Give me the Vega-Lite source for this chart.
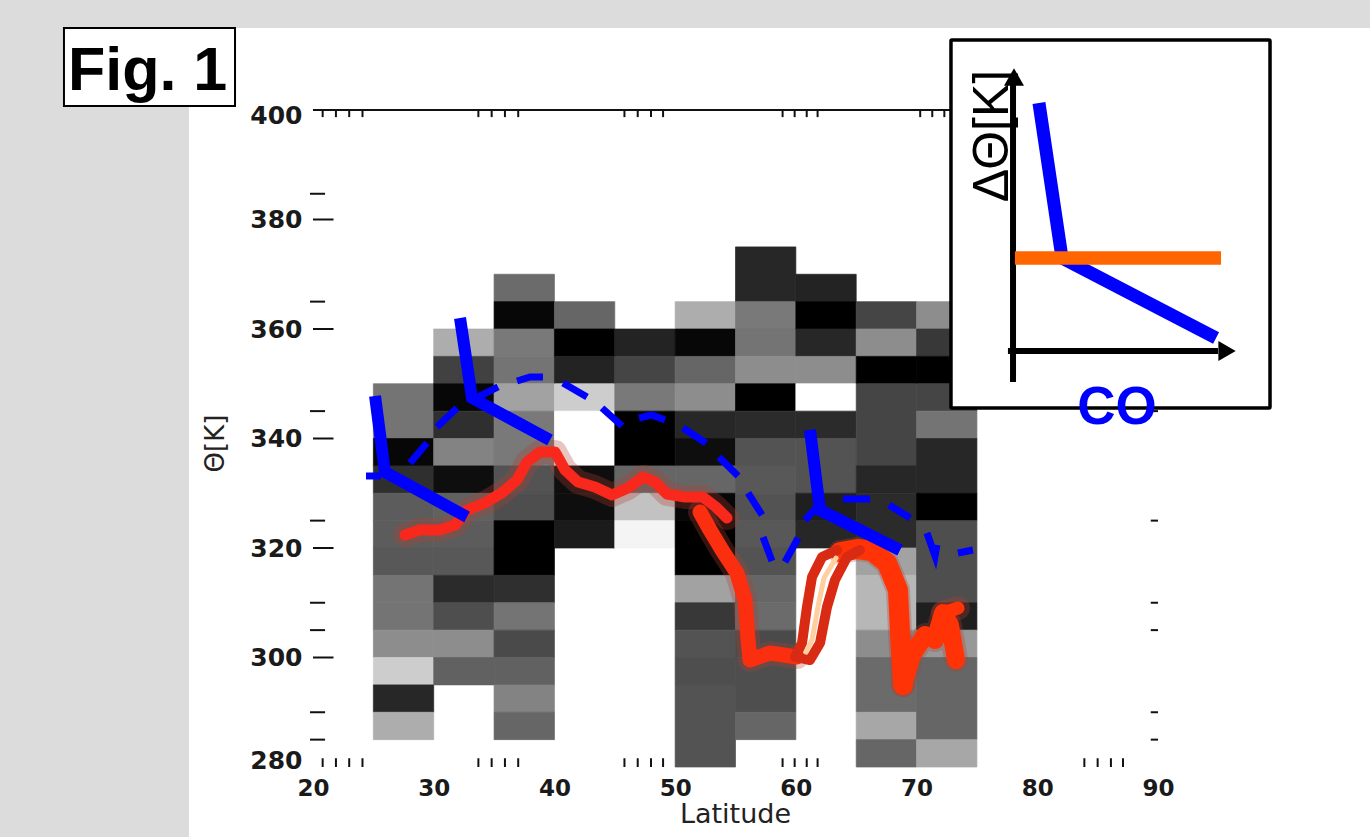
{"$schema":"https://vega.github.io/schema/vega-lite/v6.json","width":845,"height":657,"autosize":"none","padding":{"left":313,"top":110,"right":212,"bottom":70},"background":"#dcdcdc","config":{"view":{"stroke":null}},
"encoding":{"x":{"field":"lat","type":"quantitative","scale":{"domain":[20,90],"nice":false,"zero":false},"axis":{"zindex":1,"title":"Latitude","values":[20,30,40,50,60,70,80,90],"ticks":false,"domain":false,"grid":false,"labelFont":"DejaVu Sans","labelFontSize":23,"labelFontWeight":"bold","labelColor":"#1a1a1a","labelPadding":10,"labelFlush":false,"labelOverlap":false,"titleFont":"DejaVu Sans","titleFontSize":27,"titleFontWeight":"normal","titleColor":"#222222","titleX":422,"titleY":55,"titleBaseline":"alphabetic"}},"y":{"field":"t","type":"quantitative","scale":{"domain":[280,400],"nice":false,"zero":false},"axis":{"zindex":1,"title":"Θ[K]","values":[280,300,320,340,360,380,400],"ticks":false,"domain":false,"grid":false,"labelFont":"DejaVu Sans","labelFontSize":25,"labelFontWeight":"bold","labelColor":"#1a1a1a","labelPadding":11,"labelOverlap":false,"labelFlush":false,"labelOffset":{"expr":"datum.value==400?5:datum.value==280?-7:0"},"titleFont":"DejaVu Sans","titleFontSize":26,"titleFontWeight":"normal","titleColor":"#222222","titleX":-90,"titleY":333,"titleBaseline":"alphabetic"}}},
"layer":[
{"data":{"values":[{"lat":9.73,"lat2":107.56,"t":414.98,"t2":267.21}]},"mark":{"type":"rect","fill":"#ffffff"},"encoding":{"x2":{"field":"lat2"},"y2":{"field":"t2"}}},
{"data":{"values":[
{"lat":25,"lat2":30,"t":340,"t2":350,"v":125},{"lat":25,"lat2":30,"t":335,"t2":340,"v":5},{"lat":25,"lat2":30,"t":330,"t2":335,"v":50},{"lat":25,"lat2":30,"t":325,"t2":330,"v":100},{"lat":25,"lat2":30,"t":320,"t2":325,"v":100},{"lat":25,"lat2":30,"t":315,"t2":320,"v":95},{"lat":25,"lat2":30,"t":310,"t2":315,"v":125},{"lat":25,"lat2":30,"t":305,"t2":310,"v":125},{"lat":25,"lat2":30,"t":300,"t2":305,"v":150},{"lat":25,"lat2":30,"t":295,"t2":300,"v":210},{"lat":25,"lat2":30,"t":290,"t2":295,"v":40},{"lat":25,"lat2":30,"t":285,"t2":290,"v":180},
{"lat":30,"lat2":35,"t":355,"t2":360,"v":180},{"lat":30,"lat2":35,"t":350,"t2":355,"v":70},{"lat":30,"lat2":35,"t":345,"t2":350,"v":5},{"lat":30,"lat2":35,"t":340,"t2":345,"v":50},{"lat":30,"lat2":35,"t":335,"t2":340,"v":140},{"lat":30,"lat2":35,"t":330,"t2":335,"v":10},{"lat":30,"lat2":35,"t":325,"t2":330,"v":105},{"lat":30,"lat2":35,"t":320,"t2":325,"v":100},{"lat":30,"lat2":35,"t":315,"t2":320,"v":95},{"lat":30,"lat2":35,"t":310,"t2":315,"v":45},{"lat":30,"lat2":35,"t":305,"t2":310,"v":85},{"lat":30,"lat2":35,"t":300,"t2":305,"v":150},{"lat":30,"lat2":35,"t":295,"t2":300,"v":105},
{"lat":35,"lat2":40,"t":365,"t2":370,"v":115},{"lat":35,"lat2":40,"t":360,"t2":365,"v":5},{"lat":35,"lat2":40,"t":355,"t2":360,"v":130},{"lat":35,"lat2":40,"t":350,"t2":355,"v":125},{"lat":35,"lat2":40,"t":345,"t2":350,"v":170},{"lat":35,"lat2":40,"t":340,"t2":345,"v":130},{"lat":35,"lat2":40,"t":335,"t2":340,"v":130},{"lat":35,"lat2":40,"t":330,"t2":335,"v":90},{"lat":35,"lat2":40,"t":325,"t2":330,"v":85},{"lat":35,"lat2":40,"t":320,"t2":325,"v":0},{"lat":35,"lat2":40,"t":315,"t2":320,"v":0},{"lat":35,"lat2":40,"t":310,"t2":315,"v":50},{"lat":35,"lat2":40,"t":305,"t2":310,"v":125},{"lat":35,"lat2":40,"t":300,"t2":305,"v":80},{"lat":35,"lat2":40,"t":295,"t2":300,"v":105},{"lat":35,"lat2":40,"t":290,"t2":295,"v":140},{"lat":35,"lat2":40,"t":285,"t2":290,"v":110},
{"lat":40,"lat2":45,"t":360,"t2":365,"v":110},{"lat":40,"lat2":45,"t":355,"t2":360,"v":0},{"lat":40,"lat2":45,"t":350,"t2":355,"v":35},{"lat":40,"lat2":45,"t":345,"t2":350,"v":210},{"lat":40,"lat2":45,"t":335,"t2":345,"v":255},{"lat":40,"lat2":45,"t":330,"t2":335,"v":10},{"lat":40,"lat2":45,"t":325,"t2":330,"v":10},{"lat":40,"lat2":45,"t":320,"t2":325,"v":25},
{"lat":45,"lat2":50,"t":355,"t2":360,"v":35},{"lat":45,"lat2":50,"t":350,"t2":355,"v":75},{"lat":45,"lat2":50,"t":345,"t2":350,"v":130},{"lat":45,"lat2":50,"t":335,"t2":345,"v":0},{"lat":45,"lat2":50,"t":330,"t2":335,"v":110},{"lat":45,"lat2":50,"t":325,"t2":330,"v":200},{"lat":45,"lat2":50,"t":320,"t2":325,"v":245},
{"lat":50,"lat2":55,"t":360,"t2":365,"v":180},{"lat":50,"lat2":55,"t":355,"t2":360,"v":5},{"lat":50,"lat2":55,"t":350,"t2":355,"v":110},{"lat":50,"lat2":55,"t":345,"t2":350,"v":150},{"lat":50,"lat2":55,"t":340,"t2":345,"v":40},{"lat":50,"lat2":55,"t":335,"t2":340,"v":10},{"lat":50,"lat2":55,"t":330,"t2":335,"v":110},{"lat":50,"lat2":55,"t":325,"t2":330,"v":5},{"lat":50,"lat2":55,"t":315,"t2":325,"v":0},{"lat":50,"lat2":55,"t":310,"t2":315,"v":170},{"lat":50,"lat2":55,"t":305,"t2":310,"v":60},{"lat":50,"lat2":55,"t":300,"t2":305,"v":90},{"lat":50,"lat2":55,"t":295,"t2":300,"v":85},{"lat":50,"lat2":55,"t":280,"t2":295,"v":90},
{"lat":55,"lat2":60,"t":365,"t2":375,"v":40},{"lat":55,"lat2":60,"t":360,"t2":365,"v":130},{"lat":55,"lat2":60,"t":355,"t2":360,"v":125},{"lat":55,"lat2":60,"t":350,"t2":355,"v":150},{"lat":55,"lat2":60,"t":345,"t2":350,"v":0},{"lat":55,"lat2":60,"t":340,"t2":345,"v":45},{"lat":55,"lat2":60,"t":335,"t2":340,"v":90},{"lat":55,"lat2":60,"t":330,"t2":335,"v":95},{"lat":55,"lat2":60,"t":325,"t2":330,"v":90},{"lat":55,"lat2":60,"t":320,"t2":325,"v":95},{"lat":55,"lat2":60,"t":315,"t2":320,"v":90},{"lat":55,"lat2":60,"t":310,"t2":315,"v":110},{"lat":55,"lat2":60,"t":305,"t2":310,"v":115},{"lat":55,"lat2":60,"t":300,"t2":305,"v":80},{"lat":55,"lat2":60,"t":290,"t2":300,"v":85},{"lat":55,"lat2":60,"t":285,"t2":290,"v":110},
{"lat":60,"lat2":65,"t":365,"t2":370,"v":35},{"lat":60,"lat2":65,"t":360,"t2":365,"v":0},{"lat":60,"lat2":65,"t":355,"t2":360,"v":40},{"lat":60,"lat2":65,"t":350,"t2":355,"v":150},{"lat":60,"lat2":65,"t":345,"t2":350,"v":255},{"lat":60,"lat2":65,"t":340,"t2":345,"v":45},{"lat":60,"lat2":65,"t":330,"t2":340,"v":90},{"lat":60,"lat2":65,"t":325,"t2":330,"v":30},{"lat":60,"lat2":65,"t":320,"t2":325,"v":40},
{"lat":65,"lat2":70,"t":360,"t2":365,"v":75},{"lat":65,"lat2":70,"t":355,"t2":360,"v":150},{"lat":65,"lat2":70,"t":350,"t2":355,"v":0},{"lat":65,"lat2":70,"t":335,"t2":350,"v":75},{"lat":65,"lat2":70,"t":330,"t2":335,"v":40},{"lat":65,"lat2":70,"t":320,"t2":330,"v":45},{"lat":65,"lat2":70,"t":315,"t2":320,"v":170},{"lat":65,"lat2":70,"t":305,"t2":315,"v":190},{"lat":65,"lat2":70,"t":300,"t2":305,"v":150},{"lat":65,"lat2":70,"t":290,"t2":300,"v":115},{"lat":65,"lat2":70,"t":285,"t2":290,"v":175},{"lat":65,"lat2":70,"t":280,"t2":285,"v":110},
{"lat":70,"lat2":75,"t":360,"t2":365,"v":150},{"lat":70,"lat2":75,"t":355,"t2":360,"v":60},{"lat":70,"lat2":75,"t":350,"t2":355,"v":0},{"lat":70,"lat2":75,"t":345,"t2":350,"v":75},{"lat":70,"lat2":75,"t":340,"t2":345,"v":125},{"lat":70,"lat2":75,"t":330,"t2":340,"v":40},{"lat":70,"lat2":75,"t":325,"t2":330,"v":0},{"lat":70,"lat2":75,"t":310,"t2":325,"v":85},{"lat":70,"lat2":75,"t":305,"t2":310,"v":30},{"lat":70,"lat2":75,"t":300,"t2":305,"v":160},{"lat":70,"lat2":75,"t":285,"t2":300,"v":110},{"lat":70,"lat2":75,"t":280,"t2":285,"v":175}
]},"mark":{"type":"rect","strokeWidth":0.7},"encoding":{"x2":{"field":"lat2"},"y2":{"field":"t2"},"fill":{"field":"v","type":"quantitative","scale":{"domain":[0,255],"range":["#000000","#ffffff"]},"legend":null},"stroke":{"field":"v","type":"quantitative","scale":{"domain":[0,255],"range":["#000000","#ffffff"]},"legend":null}}},
{"data":{"name":"ticks","values":[
{"lat":20,"lat2":90,"t":400,"t2":400},
{"lat":20,"lat2":21.7,"t":380,"t2":380},{"lat":20,"lat2":21.7,"t":360,"t2":360},{"lat":20,"lat2":21.7,"t":340,"t2":340},{"lat":20,"lat2":21.7,"t":320,"t2":320},{"lat":20,"lat2":21.7,"t":300,"t2":300},
{"lat":19.75,"lat2":21,"t":384.7,"t2":384.7},{"lat":19.75,"lat2":21,"t":365,"t2":365},{"lat":19.75,"lat2":21,"t":345,"t2":345},{"lat":19.75,"lat2":21,"t":325,"t2":325},{"lat":19.75,"lat2":21,"t":310,"t2":310},{"lat":19.75,"lat2":21,"t":305,"t2":305},{"lat":19.75,"lat2":21,"t":290,"t2":290},{"lat":19.75,"lat2":21,"t":285,"t2":285},
{"lat":89.4,"lat2":90,"t":345,"t2":345},{"lat":89.4,"lat2":90,"t":325,"t2":325},{"lat":89.4,"lat2":90,"t":310,"t2":310},{"lat":89.4,"lat2":90,"t":305,"t2":305},{"lat":89.4,"lat2":90,"t":290,"t2":290},{"lat":89.4,"lat2":90,"t":285,"t2":285},
{"lat":20.8,"lat2":20.8,"t":280,"t2":281.6},{"lat":21.9,"lat2":21.9,"t":280,"t2":281.6},{"lat":23,"lat2":23,"t":280,"t2":281.6},{"lat":24.1,"lat2":24.1,"t":280,"t2":281.6},
{"lat":33.7,"lat2":33.7,"t":280,"t2":281.6},{"lat":34.8,"lat2":34.8,"t":280,"t2":281.6},{"lat":35.9,"lat2":35.9,"t":280,"t2":281.6},{"lat":37,"lat2":37,"t":280,"t2":281.6},
{"lat":45.8,"lat2":45.8,"t":280,"t2":281.6},{"lat":46.9,"lat2":46.9,"t":280,"t2":281.6},{"lat":48,"lat2":48,"t":280,"t2":281.6},{"lat":49,"lat2":49,"t":280,"t2":281.6},
{"lat":58.9,"lat2":58.9,"t":280,"t2":281.6},{"lat":59.9,"lat2":59.9,"t":280,"t2":281.6},{"lat":60.9,"lat2":60.9,"t":280,"t2":281.6},{"lat":61.8,"lat2":61.8,"t":280,"t2":281.6},
{"lat":83.9,"lat2":83.9,"t":280,"t2":281.6},{"lat":85,"lat2":85,"t":280,"t2":281.6},{"lat":86.1,"lat2":86.1,"t":280,"t2":281.6},{"lat":87.1,"lat2":87.1,"t":280,"t2":281.6},
{"lat":20.8,"lat2":20.8,"t":398.7,"t2":400},{"lat":21.9,"lat2":21.9,"t":398.7,"t2":400},{"lat":23,"lat2":23,"t":398.7,"t2":400},{"lat":24.1,"lat2":24.1,"t":398.7,"t2":400},
{"lat":33.7,"lat2":33.7,"t":398.7,"t2":400},{"lat":34.8,"lat2":34.8,"t":398.7,"t2":400},{"lat":35.9,"lat2":35.9,"t":398.7,"t2":400},{"lat":37,"lat2":37,"t":398.7,"t2":400},
{"lat":45.8,"lat2":45.8,"t":398.7,"t2":400},{"lat":46.9,"lat2":46.9,"t":398.7,"t2":400},{"lat":48,"lat2":48,"t":398.7,"t2":400},{"lat":49,"lat2":49,"t":398.7,"t2":400},
{"lat":58.9,"lat2":58.9,"t":398.7,"t2":400},{"lat":59.9,"lat2":59.9,"t":398.7,"t2":400},{"lat":60.9,"lat2":60.9,"t":398.7,"t2":400},{"lat":61.8,"lat2":61.8,"t":398.7,"t2":400},
{"lat":70.3,"lat2":70.3,"t":398.7,"t2":400},{"lat":71.3,"lat2":71.3,"t":398.7,"t2":400},{"lat":72.3,"lat2":72.3,"t":398.7,"t2":400}
]},"mark":{"type":"rule","color":"#111111","strokeWidth":2},"encoding":{"x2":{"field":"lat2"},"y2":{"field":"t2"}}},
{"data":{"name":"red","values":[
{"part":"L","lat":27.62,"t":322.37},{"part":"L","lat":28.86,"t":323.29},{"part":"L","lat":30.52,"t":323.29},{"part":"L","lat":31.76,"t":324.2},{"part":"L","lat":32.76,"t":326.94},{"part":"L","lat":34.25,"t":328.22},{"part":"L","lat":35.74,"t":330.23},{"part":"L","lat":36.9,"t":332.42},{"part":"L","lat":37.73,"t":335.71},{"part":"L","lat":38.8,"t":337.53},{"part":"L","lat":40.05,"t":337.53},{"part":"L","lat":40.88,"t":334.25},{"part":"L","lat":41.95,"t":332.05},{"part":"L","lat":43.36,"t":331.14},{"part":"L","lat":44.77,"t":329.68},{"part":"L","lat":46.09,"t":330.96},{"part":"L","lat":47.34,"t":332.97},{"part":"L","lat":48.33,"t":332.05},{"part":"L","lat":49.33,"t":329.86},{"part":"L","lat":50.82,"t":329.31},{"part":"L","lat":52.31,"t":329.31},{"part":"L","lat":53.38,"t":327.49},{"part":"L","lat":54.3,"t":325.48},
{"part":"D","lat":52.06,"t":326.57},{"part":"D","lat":52.89,"t":323.29},{"part":"D","lat":53.88,"t":319.63},{"part":"D","lat":55.12,"t":315.43},{"part":"D","lat":55.79,"t":310.5},{"part":"D","lat":56.04,"t":303.2},{"part":"D","lat":56.2,"t":299.54},{"part":"D","lat":57.86,"t":300.82},{"part":"D","lat":60.1,"t":300.09},
{"part":"R","lat":63.66,"t":319.27},{"part":"R","lat":65.15,"t":319.82},{"part":"R","lat":66.31,"t":319.45},{"part":"R","lat":67.55,"t":317.26},{"part":"R","lat":68.46,"t":312.33},{"part":"R","lat":68.63,"t":304.47},{"part":"R","lat":68.88,"t":294.98},
{"part":"E","lat":68.88,"t":294.98},{"part":"E","lat":69.62,"t":300.46},{"part":"E","lat":70.7,"t":304.11},{"part":"E","lat":71.53,"t":303.2},{"part":"E","lat":72.19,"t":308.13},{"part":"E","lat":72.77,"t":305.94},{"part":"E","lat":73.27,"t":299.54},
{"part":"F","lat":72.19,"t":308.13},{"part":"F","lat":73.43,"t":309.04},
{"part":"A","lat":59.93,"t":300.09},{"part":"A","lat":60.51,"t":302.65},{"part":"A","lat":60.92,"t":309.22},{"part":"A","lat":61.34,"t":314.7},{"part":"A","lat":62.17,"t":318.36},{"part":"A","lat":63.41,"t":319.63},
{"part":"B","lat":60.1,"t":300.09},{"part":"B","lat":61.17,"t":299.54},{"part":"B","lat":62,"t":302.65},{"part":"B","lat":62.58,"t":309.22},{"part":"B","lat":63.24,"t":314.15},{"part":"B","lat":64.24,"t":318.36},{"part":"B","lat":65.31,"t":319.63},
{"part":"M","lat":60.84,"t":301},{"part":"M","lat":61.34,"t":303.2},{"part":"M","lat":61.83,"t":309.22},{"part":"M","lat":62.33,"t":314.52},{"part":"M","lat":63.33,"t":318.17}
]},"transform":[{"filter":"indexof(['L','D','R','E','F'],datum.part)>=0"}],"mark":{"type":"line","color":"#b04030","opacity":0.3,"strokeCap":"round","strokeJoin":"round","strokeWidth":24},"encoding":{"detail":{"field":"part"},"order":null}},
{"data":{"name":"red"},"mark":{"type":"line","strokeCap":"round","strokeJoin":"round"},"encoding":{"order":null,"color":{"field":"part","type":"nominal","legend":null,"scale":{"type":"ordinal","domain":["L","D","R","E","F","A","B","M"],"range":["#f8281c","#fb2f0f","#ff3306","#ff3306","#ff3306","#d92a14","#d92a14","#ffcfa0"]}},"strokeWidth":{"field":"part","type":"nominal","legend":null,"scale":{"type":"ordinal","domain":["L","D","R","E","F","A","B","M"],"range":[11,15,20,18,13,10,10,5]}}}},
{"data":{"values":[
{"id":0,"lat":24.39,"t":333.15},{"id":0,"lat":25.63,"t":333.15},
{"id":1,"lat":28.04,"t":335.52},{"id":1,"lat":29.44,"t":339.18},
{"id":2,"lat":30.27,"t":342.1},{"id":2,"lat":31.93,"t":345.57},
{"id":3,"lat":33.67,"t":347.58},{"id":3,"lat":35.33,"t":349.41},
{"id":4,"lat":36.9,"t":350.5},{"id":4,"lat":37.98,"t":351.23},{"id":4,"lat":39.05,"t":351.23},
{"id":5,"lat":40.71,"t":350.14},{"id":5,"lat":42.7,"t":347.58},
{"id":6,"lat":43.94,"t":345.57},{"id":6,"lat":45.6,"t":342.28},
{"id":7,"lat":47.01,"t":343.74},{"id":7,"lat":48.08,"t":344.29},{"id":7,"lat":49.16,"t":343.38},
{"id":8,"lat":50.65,"t":341.92},{"id":8,"lat":52.56,"t":339.18},
{"id":9,"lat":53.63,"t":336.62},{"id":9,"lat":55.21,"t":333.15},
{"id":10,"lat":56.04,"t":330.05},{"id":10,"lat":57.2,"t":326.03},
{"id":11,"lat":57.28,"t":322.01},{"id":11,"lat":58.02,"t":317.62},
{"id":12,"lat":59.1,"t":317.44},{"id":12,"lat":60.18,"t":321.83},
{"id":13,"lat":60.76,"t":325.11},{"id":13,"lat":61.75,"t":327.49},
{"id":14,"lat":63.91,"t":328.95},{"id":14,"lat":66.14,"t":328.95},
{"id":15,"lat":67.72,"t":327.85},{"id":15,"lat":69.46,"t":325.48},
{"id":16,"lat":70.86,"t":322.74},{"id":16,"lat":71.69,"t":320.55},{"id":16,"lat":71.53,"t":318.54},
{"id":17,"lat":73.43,"t":319.09},{"id":17,"lat":74.67,"t":319.63}
]},"mark":{"type":"line","color":"#0000ff","strokeWidth":7},"encoding":{"detail":{"field":"id"},"order":null}},
{"data":{"values":[
{"id":1,"lat":25.14,"t":347.76},{"id":1,"lat":25.96,"t":333.88},{"id":1,"lat":32.76,"t":325.66},
{"id":2,"lat":32.18,"t":362.01},{"id":2,"lat":33.17,"t":347.4},{"id":2,"lat":39.63,"t":339.73},
{"id":3,"lat":61.17,"t":341.55},{"id":3,"lat":62,"t":326.94},{"id":3,"lat":68.63,"t":319.63}
]},"mark":{"type":"line","color":"#0000ff","strokeWidth":12},"encoding":{"detail":{"field":"id"},"order":null}},
{"data":{"values":[{"lat":-0.63,"lat2":13.54,"t":414.98,"t2":400.73}]},"mark":{"type":"rect","fill":"#ffffff","stroke":"#000000","strokeWidth":2},"encoding":{"x2":{"field":"lat2"},"y2":{"field":"t2"}}},
{"data":{"values":[{"lat":-0.3,"t":403.65,"label":"Fig. 1"}]},"mark":{"type":"text","font":"Liberation Sans","fontWeight":"bold","fontSize":61,"align":"left","baseline":"alphabetic","color":"#000000"},"encoding":{"text":{"field":"label"}}},
{"data":{"values":[{"lat":72.85,"lat2":99.28,"t":412.79,"t2":345.57}]},"mark":{"type":"rect","fill":"#ffffff","stroke":"#000000","strokeWidth":3.5,"cornerRadius":1},"encoding":{"x2":{"field":"lat2"},"y2":{"field":"t2"}}},
{"data":{"values":[{"id":"v","lat":77.99,"t":406.03},{"id":"v","lat":77.99,"t":350.32},{"id":"h","lat":77.57,"t":355.98},{"id":"h","lat":94.97,"t":355.98}]},"mark":{"type":"line","color":"#000000","strokeWidth":6},"encoding":{"detail":{"field":"id"},"order":null}},
{"data":{"values":[{"lat":78.07,"t":406.03}]},"mark":{"type":"point","shape":"triangle-up","size":400,"filled":true,"color":"#000000","opacity":1}},
{"data":{"values":[{"lat":95.72,"t":355.98}]},"mark":{"type":"point","shape":"triangle-right","size":400,"filled":true,"color":"#000000","opacity":1}},
{"data":{"values":[{"lat":80.14,"t":401.28},{"lat":82.05,"t":372.97},{"lat":94.81,"t":358.36}]},"mark":{"type":"line","color":"#0000ff","strokeWidth":13},"encoding":{"order":null}},
{"data":{"values":[{"lat":78.15,"t":372.97},{"lat":95.22,"t":372.97}]},"mark":{"type":"line","color":"#ff6600","strokeWidth":13.5},"encoding":{"order":null}},
{"data":{"values":[{"lat":77.57,"t":395.25,"label":"ΔΘ[K]"}]},"mark":{"type":"text","font":"Liberation Sans","fontSize":50,"angle":270,"align":"center","baseline":"alphabetic","color":"#000000"},"encoding":{"text":{"field":"label"}}},
{"data":{"values":[{"lat":86.6,"t":342.65,"label":"CO"}]},"mark":{"type":"text","font":"Liberation Sans","fontWeight":"bold","fontSize":53,"align":"center","baseline":"alphabetic","color":"#0000ff"},"encoding":{"text":{"field":"label"}}}
]}
